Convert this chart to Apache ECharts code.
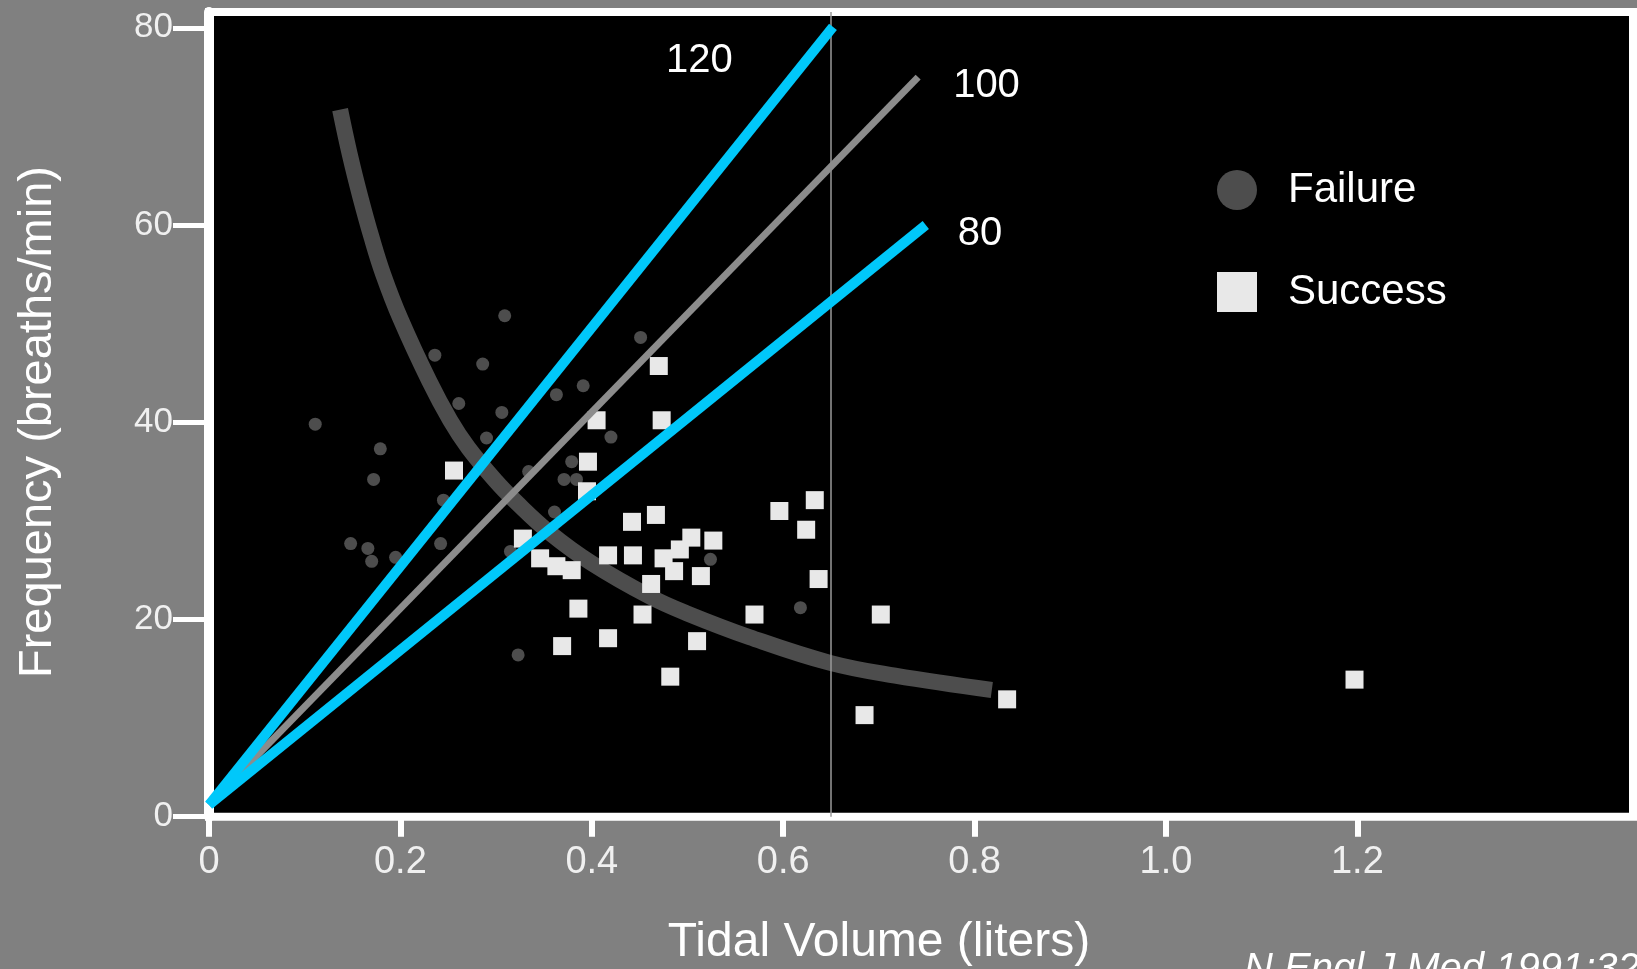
<!DOCTYPE html>
<html>
<head>
<meta charset="utf-8">
<script src="https://cdn.jsdelivr.net/npm/echarts@6/dist/echarts.min.js"></script>
<style>
html,body{margin:0;padding:0;background:#808080;}
#chart{width:1637px;height:969px;}
</style>
</head>
<body>
<div id="chart"></div>
<script>
const xTicks = [0, 0.2, 0.4, 0.6, 0.8, 1.0, 1.2];
const yTicks = [0, 20, 40, 60, 80];

const failure = [
  [0.111, 39.8], [0.148, 27.7], [0.166, 27.2], [0.170, 25.9], [0.172, 34.2],
  [0.179, 37.3], [0.195, 26.3], [0.236, 46.8], [0.242, 27.7], [0.245, 32.1],
  [0.261, 41.9], [0.286, 45.9], [0.290, 38.4], [0.306, 41.0], [0.309, 50.8],
  [0.315, 26.9], [0.323, 16.4], [0.334, 35.0], [0.361, 30.9], [0.363, 42.8],
  [0.371, 34.2], [0.379, 36.0], [0.384, 34.2], [0.391, 43.7], [0.420, 38.5],
  [0.451, 48.6], [0.524, 26.1], [0.618, 21.2]
];

const success = [
  [0.256, 35.1], [0.328, 28.2], [0.346, 26.2], [0.363, 25.4], [0.369, 17.3],
  [0.379, 25.0], [0.386, 21.1], [0.395, 33.0], [0.396, 36.0], [0.405, 40.2],
  [0.417, 26.5], [0.417, 18.1], [0.442, 29.9], [0.443, 26.5], [0.453, 20.5],
  [0.462, 23.6], [0.467, 30.6], [0.470, 45.7], [0.473, 40.2], [0.475, 26.2],
  [0.482, 14.2], [0.486, 24.9], [0.492, 27.1], [0.504, 28.3], [0.510, 17.8],
  [0.514, 24.4], [0.527, 28.0], [0.570, 20.5], [0.596, 31.0], [0.624, 29.1],
  [0.633, 32.1], [0.637, 24.1], [0.685, 10.3], [0.702, 20.5], [0.834, 11.9],
  [1.197, 13.9]
];

const curve = [
  [0.137, 71.7], [0.147, 67.2], [0.158, 62.9], [0.170, 58.7], [0.182, 55.0],
  [0.200, 50.5], [0.230, 44.2], [0.252, 40.2], [0.271, 37.4], [0.300, 34.0],
  [0.320, 32.0], [0.356, 28.8], [0.400, 25.7], [0.461, 22.3], [0.500, 20.6],
  [0.565, 18.2], [0.649, 15.6], [0.717, 14.3], [0.818, 12.85]
];

const ratioLabels = ['120', '100', '80'];
const ratioStart = [0, 1.2];
const ratioEnds = [[0.652, 80.1], [0.741, 75.0], [0.749, 60.0]];
const vlineX = 0.645;

const FONT = 'Liberation Sans, Arial, sans-serif';
const ratioColors = ['#00c8fa', '#8c8c8c', '#00c8fa'];
const ratioWidths = [10, 7, 10];
const ratioLabelOffsets = [[-167, 34], [35, 9], [32, 9]];

const chart = echarts.init(document.getElementById('chart'));

const ratioSeries = ratioLabels.map((lab, i) => ({
  name: 'ratio' + lab,
  type: 'line',
  data: [ratioStart, ratioEnds[i]],
  symbol: 'none',
  z: i === 1 ? 5 : 6,
  silent: true,
  lineStyle: { color: ratioColors[i], width: ratioWidths[i], cap: 'butt' },
  endLabel: {
    show: true,
    formatter: lab,
    color: '#ffffff',
    fontSize: 40,
    fontFamily: FONT,
    align: 'left',
    verticalAlign: 'middle',
    distance: 0,
    offset: ratioLabelOffsets[i]
  },
  markLine: i === 0 ? {
    symbol: 'none',
    silent: true,
    label: { show: false },
    lineStyle: { color: '#9a9a9a', width: 1.5, type: 'solid' },
    data: [{ xAxis: vlineX }]
  } : undefined
}));

chart.setOption({
  backgroundColor: '#808080',
  animation: false,
  textStyle: { fontFamily: FONT },
  grid: {
    left: 209, right: 4, top: 12, bottom: 152.3,
    show: true, backgroundColor: '#000000',
    borderColor: '#ffffff', borderWidth: 8
  },
  legend: {
    data: [{ name: 'Failure', icon: 'circle' }, { name: 'Success', icon: 'rect' }],
    orient: 'vertical',
    left: 1212, top: 164,
    itemWidth: 40, itemHeight: 40, itemGap: 60,
    selectedMode: false,
    textStyle: { color: '#ffffff', fontSize: 42, fontFamily: FONT, padding: [0, 0, 0, 26] }
  },
  xAxis: {
    type: 'value', min: 0, max: 1.488,
    axisLine: { show: true, lineStyle: { color: '#ffffff', width: 7 } },
    axisTick: { show: true, length: 20, lineStyle: { color: '#ffffff', width: 6 }, customValues: xTicks },
    axisLabel: {
      color: '#f0f0f0', fontSize: 38, fontFamily: FONT, margin: 27,
      customValues: xTicks,
      formatter: v => (v === 0 ? '0' : v.toFixed(1))
    },
    splitLine: { show: false }
  },
  yAxis: {
    type: 'value', min: 0, max: 81.6,
    axisLine: { show: true, lineStyle: { color: '#ffffff', width: 10 } },
    axisTick: { show: true, length: 36, lineStyle: { color: '#ffffff', width: 5 }, customValues: yTicks },
    axisLabel: {
      color: '#f0f0f0', fontSize: 35, fontFamily: FONT, margin: 36,
      customValues: yTicks
    },
    splitLine: { show: false }
  },
  series: [
    {
      name: 'curve', type: 'line', data: curve, smooth: 0.4, symbol: 'none', silent: true, z: 2,
      lineStyle: { color: '#4d4d4d', width: 16, cap: 'butt' }
    },
    {
      name: 'Failure', type: 'scatter', data: failure, symbol: 'circle', symbolSize: 13, z: 3,
      itemStyle: { color: '#4d4d4d', opacity: 1 }
    },
    {
      name: 'Success', type: 'scatter', data: success, symbol: 'rect', symbolSize: 18, z: 4,
      itemStyle: { color: '#e8e8e8', opacity: 1 }
    }
  ].concat(ratioSeries),
  graphic: [
    {
      type: 'text', x: 38, y: 422, rotation: Math.PI / 2,
      style: { text: 'Frequency (breaths/min)', fill: '#ffffff', fontSize: 47, fontFamily: FONT, align: 'center', verticalAlign: 'middle' }
    },
    {
      type: 'text', x: 879, y: 943,
      style: { text: 'Tidal Volume (liters)', fill: '#ffffff', fontSize: 48, fontFamily: FONT, align: 'center', verticalAlign: 'middle' }
    },
    {
      type: 'text', x: 1244, y: 950,
      style: { text: 'N Engl J Med 1991;324:1445-50', fill: '#ffffff', fontSize: 40, fontStyle: 'italic', fontFamily: FONT, align: 'left', verticalAlign: 'top' }
    }
  ]
});
</script>
</body>
</html>
